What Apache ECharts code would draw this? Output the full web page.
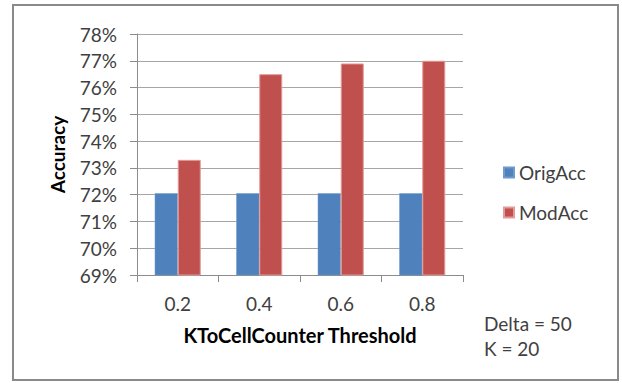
<!DOCTYPE html>
<html>
<head>
<meta charset="utf-8">
<script src="https://cdn.jsdelivr.net/npm/echarts@6/dist/echarts.min.js"></script>
<style>
  html, body { margin: 0; padding: 0; background: #fff; }
  #chart { width: 622px; height: 383px; }
</style>
</head>
<body>
<div id="chart"></div>
<script>
// Threshold categories and accuracy values (percent)
const thresholds = ['0.2', '0.4', '0.6', '0.8'];
const origAcc = [72.05, 72.05, 72.05, 72.05];
const modAcc = [73.3, 76.5, 76.9, 77.0];
const seriesNames = ['OrigAcc', 'ModAcc'];
const noteLines = ['Delta = 50', 'K = 20'];

const FONT = 'Lato, "Open Sans", sans-serif';
const chart = echarts.init(document.getElementById('chart'), null, { renderer: 'svg' });

chart.setOption({
  backgroundColor: '#fff',
  animation: false,
  textStyle: { fontFamily: FONT },
  grid: { left: 137, right: 159, top: 34, bottom: 108 },
  legend: {
    orient: 'vertical',
    left: 498,
    top: 158,
    itemWidth: 10,
    itemHeight: 10,
    itemGap: 21,
    icon: 'rect',
    textStyle: { fontFamily: FONT, fontSize: 19, color: '#404040' },
    data: seriesNames
  },
  xAxis: {
    type: 'category',
    data: thresholds,
    name: 'KToCellCounter Threshold',
    nameLocation: 'middle',
    nameGap: 50,
    nameTextStyle: { fontFamily: FONT, fontSize: 20, fontWeight: 'bold', color: '#000' },
    axisLine: { lineStyle: { color: '#8c8c8c', width: 1 } },
    axisTick: { show: true, length: 7, alignWithLabel: false, lineStyle: { color: '#8c8c8c' } },
    axisLabel: { fontFamily: FONT, fontSize: 19, color: '#404040', margin: 19 }
  },
  yAxis: {
    type: 'value',
    min: 69,
    max: 78,
    interval: 1,
    name: 'Accuracy',
    nameLocation: 'middle',
    nameGap: 70,
    nameRotate: 90,
    nameTextStyle: { fontFamily: FONT, fontSize: 19, fontWeight: 'bold', color: '#000' },
    axisLine: { show: true, lineStyle: { color: '#8c8c8c', width: 1 } },
    axisTick: { show: true, length: 7, lineStyle: { color: '#8c8c8c' } },
    axisLabel: { fontFamily: FONT, fontSize: 19, color: '#404040', margin: 20, formatter: '{value}%' },
    splitLine: { lineStyle: { color: '#a6a6a6', width: 1 } }
  },
  series: [
    {
      name: seriesNames[0],
      type: 'bar',
      data: origAcc,
      barWidth: 23,
      barGap: '0%',
      itemStyle: { color: '#4F81BD', borderColor: '#6f9ad0', borderWidth: 0.5 }
    },
    {
      name: seriesNames[1],
      type: 'bar',
      data: modAcc,
      barWidth: 23,
      barGap: '0%',
      itemStyle: { color: '#C0504D', borderColor: '#e39a98', borderWidth: 1 }
    }
  ],
  graphic: [
    {
      type: 'rect',
      shape: { x: 13, y: 5, width: 605, height: 375 },
      style: { fill: 'none', stroke: '#8a8a8a', lineWidth: 2 },
      silent: true
    },
    {
      type: 'text',
      left: 484,
      top: 314,
      style: { text: noteLines[0], fontFamily: FONT, fontSize: 19, fill: '#404040' }
    },
    {
      type: 'text',
      left: 484,
      top: 339,
      style: { text: noteLines[1], fontFamily: FONT, fontSize: 19, fill: '#404040' }
    }
  ]
});
</script>
</body>
</html>
